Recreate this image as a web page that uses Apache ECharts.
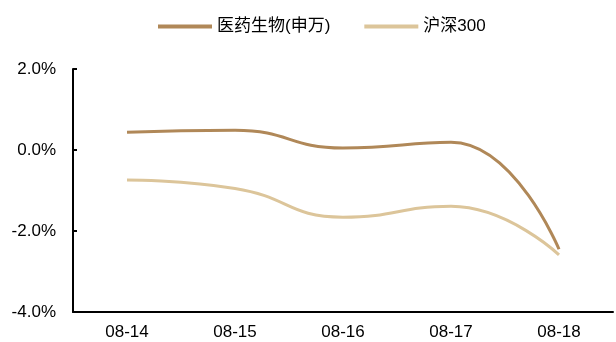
<!DOCTYPE html>
<html>
<head>
<meta charset="utf-8">
<script src="https://cdn.jsdelivr.net/npm/echarts@6/dist/echarts.min.js"></script>
<style>
  html, body { margin: 0; padding: 0; background: #fff; }
  #chart { width: 616px; height: 342px; }
</style>
</head>
<body>
<div id="chart"></div>
<script>
// Daily returns (%), sector index vs. CSI 300
const dates = ['08-14', '08-15', '08-16', '08-17', '08-18'];
const pharmaReturns = [0.44, 0.49, 0.05, 0.19, -2.45];
const csi300Returns = [-0.74, -0.95, -1.66, -1.39, -2.59];
const seriesNames = ['医药生物(申万)', '沪深300'];
const seriesColors = ['#b08858', '#dcc59a'];

const chart = echarts.init(document.getElementById('chart'));
const labelFont = { fontFamily: '"Liberation Sans", Arial, sans-serif', fontSize: 17, color: '#000' };

chart.setOption({
  animation: false,
  legend: {
    top: 13,
    left: 153,
    itemWidth: 54,
    itemHeight: 4,
    itemGap: 34,
    icon: 'rect',
    textStyle: { fontFamily: '"Liberation Sans", "Noto Sans CJK SC", sans-serif', fontSize: 17, color: '#000' },
    data: seriesNames.map((n, i) => ({ name: n, itemStyle: { color: seriesColors[i] } }))
  },
  grid: { left: 73, right: 3, top: 69, bottom: 30, containLabel: false },
  xAxis: {
    type: 'category',
    data: dates,
    boundaryGap: true,
    axisLine: { onZero: false, lineStyle: { color: '#000', width: 2 } },
    axisTick: { inside: true, length: 4, lineStyle: { color: '#000', width: 2 } },
    axisLabel: Object.assign({ margin: 12 }, labelFont)
  },
  yAxis: {
    type: 'value',
    min: -4,
    max: 2,
    interval: 2,
    axisLine: { show: true, lineStyle: { color: '#000', width: 2 } },
    axisTick: { show: true, inside: true, length: 4, lineStyle: { color: '#000', width: 2 } },
    splitLine: { show: false },
    axisLabel: Object.assign({ margin: 17, formatter: v => v.toFixed(1) + '%' }, labelFont)
  },
  series: [
    {
      name: seriesNames[0],
      type: 'line',
      data: pharmaReturns,
      smooth: 0.5,
      symbol: 'none',
      lineStyle: { color: seriesColors[0], width: 3 },
      itemStyle: { color: seriesColors[0] }
    },
    {
      name: seriesNames[1],
      type: 'line',
      data: csi300Returns,
      smooth: 0.5,
      symbol: 'none',
      lineStyle: { color: seriesColors[1], width: 3 },
      itemStyle: { color: seriesColors[1] }
    }
  ]
});
</script>
</body>
</html>
